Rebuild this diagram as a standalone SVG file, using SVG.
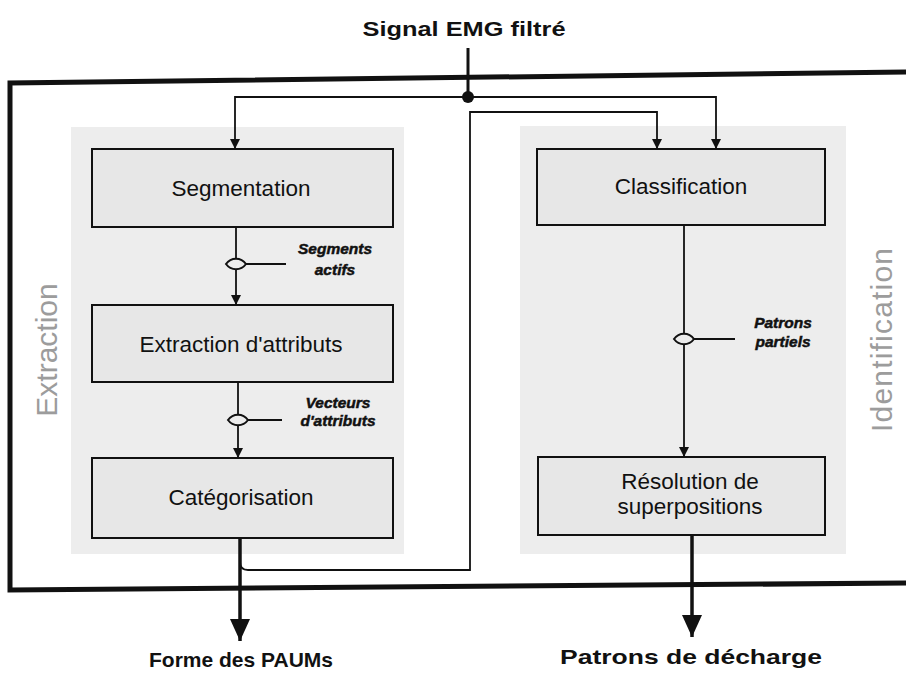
<svg xmlns="http://www.w3.org/2000/svg" width="906" height="677" viewBox="0 0 906 677">
<style>
.panel{fill:#ededed}
.box{fill:#e7e7e7;stroke:#111;stroke-width:2}
.btxt{font-family:"Liberation Sans",Arial,sans-serif;font-size:22.5px;fill:#111;text-anchor:middle}
.lbl{font-family:"Liberation Sans",Arial,sans-serif;font-size:15.5px;font-weight:bold;font-style:italic;fill:#111;stroke:#111;stroke-width:0.5;text-anchor:middle}
.io{font-family:"Liberation Sans",Arial,sans-serif;font-size:21px;font-weight:bold;fill:#111;text-anchor:middle}
.side{font-family:"Liberation Sans",Arial,sans-serif;font-size:30px;fill:#9c9c9c;text-anchor:middle}
.frame{stroke:#111;stroke-width:5;fill:none}
.conn{stroke:#111;stroke-width:1.8;fill:none}
.thick{stroke:#111;stroke-width:3.5;fill:none}
.lens{fill:#ececec;stroke:#111;stroke-width:2}
</style>
<defs>
<marker id="arr" markerUnits="userSpaceOnUse" markerWidth="10" markerHeight="10" refX="10" refY="5" orient="auto">
<path d="M0,0 L10,5 L0,10 Z" fill="#111"/>
</marker>
<marker id="big" markerUnits="userSpaceOnUse" markerWidth="22" markerHeight="20" refX="22" refY="10" orient="auto">
<path d="M0,0 L22,10 L0,20 Z" fill="#111"/>
</marker>
<path id="lensShape" d="M-10,0 C-5,-7 5,-7 10,0 C5,7 -5,7 -10,0 Z"/>
</defs>
<rect width="906" height="677" fill="#fff"/>

<g id="panel-extraction">
<rect class="panel" x="71" y="127" width="333" height="427"/>
<text class="side" transform="translate(57,350) rotate(-90)">Extraction</text>
</g>
<g id="panel-identification">
<rect class="panel" x="520" y="126" width="326" height="428"/>
<text class="side" transform="translate(892,340) rotate(-90)" textLength="184" lengthAdjust="spacing">Identification</text>
</g>

<g id="frame">
<path class="frame" d="M906,72 L10,83 L10,590 L906,583"/>
</g>

<g id="input">
<text class="io" x="464" y="36" textLength="203" lengthAdjust="spacingAndGlyphs">Signal EMG filtré</text>
</g>

<g id="segmentation">
<rect class="box" x="92" y="149" width="301" height="78"/>
<text class="btxt" x="241" y="196">Segmentation</text>
</g>
<g id="extraction-attributs">
<rect class="box" x="92" y="305" width="301" height="77"/>
<text class="btxt" x="241" y="352">Extraction d'attributs</text>
</g>
<g id="categorisation">
<rect class="box" x="92" y="458" width="301" height="80"/>
<text class="btxt" x="241" y="505">Catégorisation</text>
</g>
<g id="classification">
<rect class="box" x="537" y="149" width="288" height="76"/>
<text class="btxt" x="681" y="194">Classification</text>
</g>
<g id="resolution">
<rect class="box" x="538" y="457" width="287" height="78"/>
<text class="btxt" x="690" y="489">Résolution de</text>
<text class="btxt" x="690" y="514">superpositions</text>
</g>

<g id="connectors">
<line x1="468" y1="48" x2="468" y2="97" stroke="#111" stroke-width="3"/>
<circle cx="468" cy="97" r="6" fill="#111"/>
<path class="conn" d="M468,97 H235 V149" marker-end="url(#arr)"/>
<path class="conn" d="M468,97 H716 V149" marker-end="url(#arr)"/>
<path class="conn" d="M240,562 Q240,570 248,570 H470 V112 H657 V149" marker-end="url(#arr)"/>
<path class="conn" d="M236,227 V305" marker-end="url(#arr)"/>
<path class="conn" d="M238,382 V458" marker-end="url(#arr)"/>
<path class="conn" d="M684,225 V457" marker-end="url(#arr)"/>
<path class="thick" d="M240,538 V641" marker-end="url(#big)"/>
<path class="thick" d="M692,535 V637" marker-end="url(#big)"/>

<line class="conn" x1="246" y1="264" x2="286" y2="264"/>
<use href="#lensShape" class="lens" x="236" y="264"/>
<line class="conn" x1="248" y1="420" x2="282" y2="420"/>
<use href="#lensShape" class="lens" x="238" y="420"/>
<line class="conn" x1="694" y1="339" x2="735" y2="339"/>
<use href="#lensShape" class="lens" x="684" y="339"/>
</g>

<g id="labels">
<text class="lbl" x="335" y="254">Segments</text>
<text class="lbl" x="335" y="275">actifs</text>
<text class="lbl" x="338" y="408">Vecteurs</text>
<text class="lbl" x="338" y="426">d'attributs</text>
<text class="lbl" x="783" y="328">Patrons</text>
<text class="lbl" x="783" y="347">partiels</text>
</g>

<g id="outputs">
<text class="io" x="241" y="667" textLength="184" lengthAdjust="spacingAndGlyphs">Forme des PAUMs</text>
<text class="io" x="691" y="664" textLength="262" lengthAdjust="spacingAndGlyphs">Patrons de décharge</text>
</g>
</svg>
